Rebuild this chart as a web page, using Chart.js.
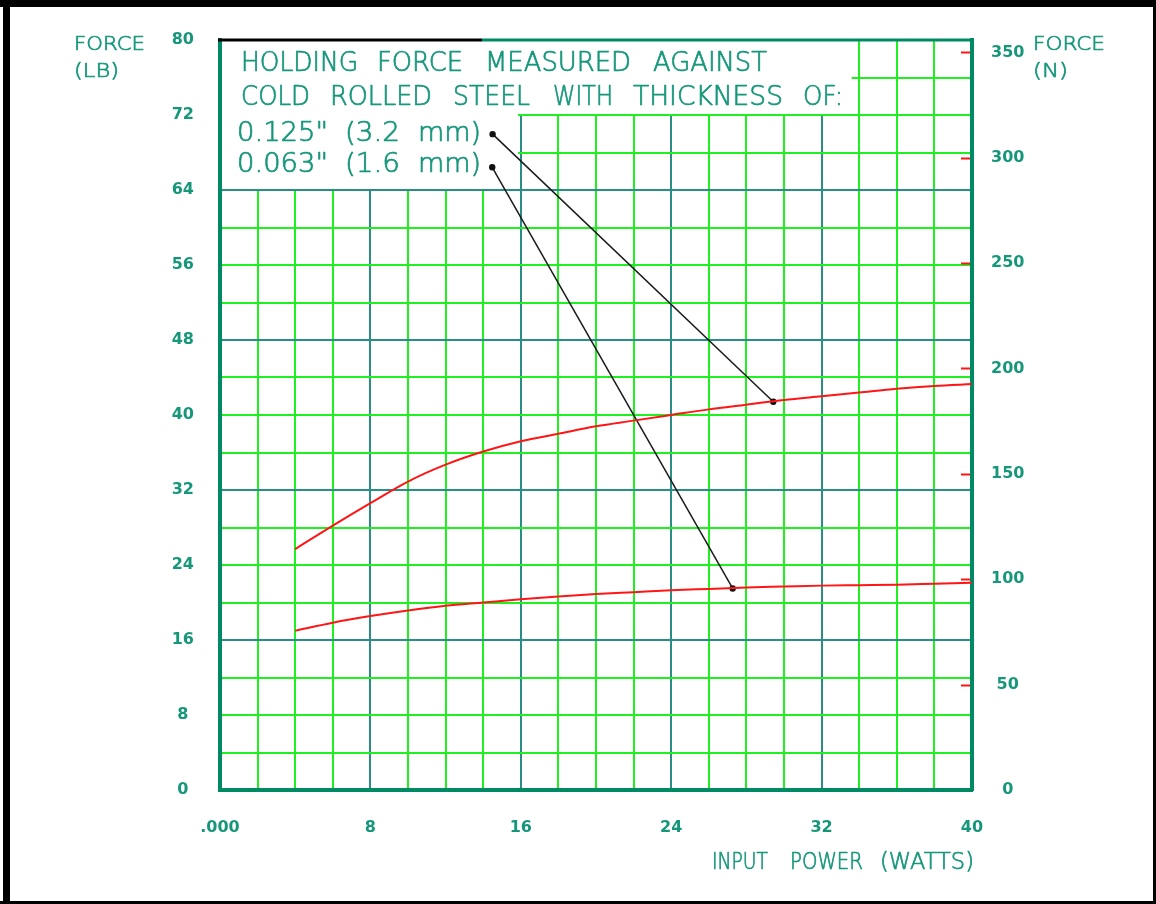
<!DOCTYPE html>
<html><head><meta charset="utf-8">
<script src="https://cdn.jsdelivr.net/npm/chart.js@4.4.1/dist/chart.umd.min.js"></script>
<style>html,body{margin:0;padding:0;background:#fff;overflow:hidden}canvas{display:block}</style>
</head><body>
<canvas id="c" width="1156" height="904"></canvas>
<script>
// ---- data ----
const powerW   = [4, 6, 8, 10, 12, 14, 16, 18, 20, 22, 24, 26, 28, 30, 32, 34, 36, 38, 40];
const force125 = [25.7, 28.2, 30.6, 32.9, 34.7, 36.1, 37.2, 38.0, 38.8, 39.4, 40.0, 40.6, 41.1, 41.6, 42.0, 42.4, 42.8, 43.1, 43.3];
const force063 = [17.0, 17.85, 18.55, 19.15, 19.65, 20.0, 20.35, 20.65, 20.9, 21.1, 21.3, 21.45, 21.6, 21.7, 21.8, 21.85, 21.9, 22.0, 22.1];
const leader125X = [14.5, 29.43];
const leader125Y = [69.96, 41.42];
const leader063X = [14.48, 27.27];
const leader063Y = [66.42, 21.5];

const xGridValues = [0,2,4,6,8,10,12,14,16,18,20,22,24,26,28,30,32,34,36,38,40];
const yGridValues = [0,4,8,12,16,20,24,28,32,36,40,44,48,52,56,60,64,68,72,76,80];
const xTickValues = [0, 8, 16, 24, 32, 40];
const xTickLabels = ['.000', '8', '16', '24', '32', '40'];
const yTickLabels = [0, 8, 16, 24, 32, 40, 48, 56, 64, 72, 80];
const nTickValues = [0, 50, 100, 150, 200, 250, 300, 350];
const LB_TO_N = 4.44822;

const legendLines = ['HOLDING FORCE MEASURED AGAINST', 'COLD ROLLED STEEL WITH THICKNESS OF:'];
const seriesLabels = ['0.125" (3.2 mm)', '0.063" (1.6 mm)'];
const yTitle = ['FORCE', '(LB)'];
const y2Title = ['FORCE', '(N)'];
const xTitle = 'INPUT POWER (WATTS)';

// ---- styles ----
const TEXT = '#16977a';
const FRAME = '#008a64';
const GRID_GREEN = '#1ff01f';
const GRID_TEAL = '#2a8d88';
const RED = '#ff1515';
const TICK_FONT = {family: 'DejaVu Sans', size: 16, weight: 'bold'};

function pts(xs, ys) { return xs.map((x, i) => ({x: x, y: ys[i]})); }

function fitText(ctx, text, x, baseline, width, size) {
  ctx.font = '200 ' + size + 'px "DejaVu Sans"';
  const w = ctx.measureText(text).width;
  ctx.save();
  ctx.translate(x, baseline);
  ctx.scale(width / w, 1);
  ctx.textAlign = 'left';
  ctx.textBaseline = 'alphabetic';
  ctx.fillText(text, 0, 0);
  ctx.strokeStyle = ctx.fillStyle;
  ctx.lineWidth = 0.7;
  ctx.lineJoin = 'round';
  ctx.strokeText(text, 0, 0);
  ctx.restore();
}
// place each word of a line inside its own span [x0, x1, x0, x1, ...]
function fitWords(ctx, line, spans, baseline, size) {
  const words = line.split(' ');
  words.forEach((wd, i) => fitText(ctx, wd, spans[2 * i], baseline, spans[2 * i + 1] - spans[2 * i], size));
}

const overlay = {
  id: 'overlay',
  beforeDraw(chart) {
    const ctx = chart.ctx;
    ctx.save(); ctx.fillStyle = '#fff'; ctx.fillRect(0, 0, chart.width, chart.height); ctx.restore();
  },
  beforeDatasetsDraw(chart) {
    const {ctx, chartArea: a, scales} = chart;
    const sx = scales.x, sy = scales.y, s2 = scales.y2;
    ctx.save();
    // white legend panels
    ctx.fillStyle = '#fff';
    const b1r = sx.getPixelForValue(33.6), b1b = sy.getPixelForValue(72) - 1;
    ctx.fillRect(a.left + 2, a.top + 1, b1r - a.left - 2, b1b - a.top - 1);
    const b2r = sx.getPixelForValue(15.85), b2b = sy.getPixelForValue(64) - 1;
    ctx.fillRect(a.left + 2, b1b - 1, b2r - a.left - 2, b2b - b1b + 1);
    // red inward ticks on the N axis
    ctx.strokeStyle = RED; ctx.lineWidth = 2;
    s2.ticks.forEach(t => {
      if (t.value === 0) return;
      const y = Math.round(s2.getPixelForValue(t.value)) + 0.5;
      ctx.beginPath(); ctx.moveTo(a.right - 11, y); ctx.lineTo(a.right - 2, y); ctx.stroke();
    });
    // legend text
    ctx.fillStyle = TEXT;
    fitWords(ctx, legendLines[0], [241, 358, 377, 463, 485, 631, 653, 767], 71, 26);
    fitWords(ctx, legendLines[1], [241, 310, 330, 432, 453, 530, 553, 613, 633, 783, 803, 843], 104.5, 26);
    fitWords(ctx, seriesLabels[0], [237, 328, 345, 400, 418, 481], 141, 26);
    fitWords(ctx, seriesLabels[1], [237, 328, 345, 400, 418, 481], 172, 26);
    ctx.restore();
  },
  afterDraw(chart) {
    const {ctx, chartArea: a} = chart;
    ctx.save();
    // top frame
    ctx.lineWidth = 3;
    ctx.strokeStyle = '#000';
    ctx.beginPath(); ctx.moveTo(a.left - 2, a.top); ctx.lineTo(482, a.top); ctx.stroke();
    ctx.strokeStyle = FRAME;
    ctx.beginPath(); ctx.moveTo(482, a.top); ctx.lineTo(a.right + 2, a.top); ctx.stroke();
    // axis titles
    ctx.fillStyle = TEXT;
    fitText(ctx, yTitle[0], 74, 49.5, 71, 20);
    fitText(ctx, yTitle[1], 74, 77, 45, 20);
    fitText(ctx, y2Title[0], 1033, 50, 72, 20);
    fitText(ctx, y2Title[1], 1033, 77, 35, 20);
    fitWords(ctx, xTitle, [712, 768, 790, 863, 880, 974], 868.5, 23);
    // outer black frame
    ctx.fillStyle = '#000';
    ctx.fillRect(0, 0, chart.width, 7);
    ctx.fillRect(3, 0, 7, chart.height);
    ctx.fillRect(0, chart.height - 3, chart.width, 3);
    ctx.fillRect(chart.width - 3, 0, 3, chart.height);
    ctx.restore();
  }
};

new Chart(document.getElementById('c'), {
  type: 'scatter',
  data: {
    datasets: [
      {label: seriesLabels[0], data: pts(powerW, force125), showLine: true, borderColor: RED, borderWidth: 2, pointRadius: 0, cubicInterpolationMode: 'monotone'},
      {label: seriesLabels[1], data: pts(powerW, force063), showLine: true, borderColor: RED, borderWidth: 2, pointRadius: 0, cubicInterpolationMode: 'monotone'},
      {label: 'leader1', data: pts(leader125X, leader125Y), showLine: true, borderColor: '#1a1a1a', borderWidth: 1.5, pointRadius: 3.2, pointBackgroundColor: '#111', pointBorderWidth: 0},
      {label: 'leader2', data: pts(leader063X, leader063Y), showLine: true, borderColor: '#1a1a1a', borderWidth: 1.5, pointRadius: 3.2, pointBackgroundColor: '#111', pointBorderWidth: 0}
    ]
  },
  options: {
    responsive: false, animation: false, devicePixelRatio: 1, events: [],
    layout: {padding: {top: 40, left: 0, right: 0, bottom: 0}},
    plugins: {legend: {display: false}, tooltip: {enabled: false}},
    scales: {
      x: {
        type: 'linear', position: 'bottom', min: 0, max: 40,
        afterBuildTicks: s => { s.ticks = xGridValues.map(v => ({value: v})); },
        afterFit: s => { s.height = 114; },
        grid: {color: c => (c.tick && c.tick.value % 8 === 0) ? GRID_TEAL : GRID_GREEN, lineWidth: 2, drawTicks: false},
        border: {color: FRAME, width: 4},
        ticks: {autoSkip: false, maxRotation: 0, minRotation: 0, padding: 28, font: TICK_FONT, color: TEXT,
          callback: v => { const i = xTickValues.indexOf(v); return i >= 0 ? xTickLabels[i] : ''; }}
      },
      y: {
        type: 'linear', position: 'left', min: 0, max: 80,
        afterBuildTicks: s => { s.ticks = yGridValues.map(v => ({value: v})); },
        afterFit: s => { s.width = 220; },
        grid: {color: c => (c.tick && c.tick.value % 16 === 0) ? GRID_TEAL : GRID_GREEN, lineWidth: 2, drawTicks: false},
        border: {color: FRAME, width: 4},
        ticks: {autoSkip: false, crossAlign: 'center', padding: 26, font: TICK_FONT, color: TEXT,
          callback: v => yTickLabels.includes(v) ? String(v) : ''}
      },
      y2: {
        type: 'linear', position: 'right', min: 0, max: 80 * LB_TO_N,
        afterBuildTicks: s => { s.ticks = nTickValues.map(v => ({value: v})); },
        afterFit: s => { s.width = 184; },
        grid: {drawOnChartArea: false, drawTicks: false},
        border: {color: FRAME, width: 4},
        ticks: {autoSkip: false, crossAlign: 'center', padding: 19, font: TICK_FONT, color: TEXT,
          callback: v => String(v)}
      }
    }
  },
  plugins: [overlay]
});
</script>
</body></html>
